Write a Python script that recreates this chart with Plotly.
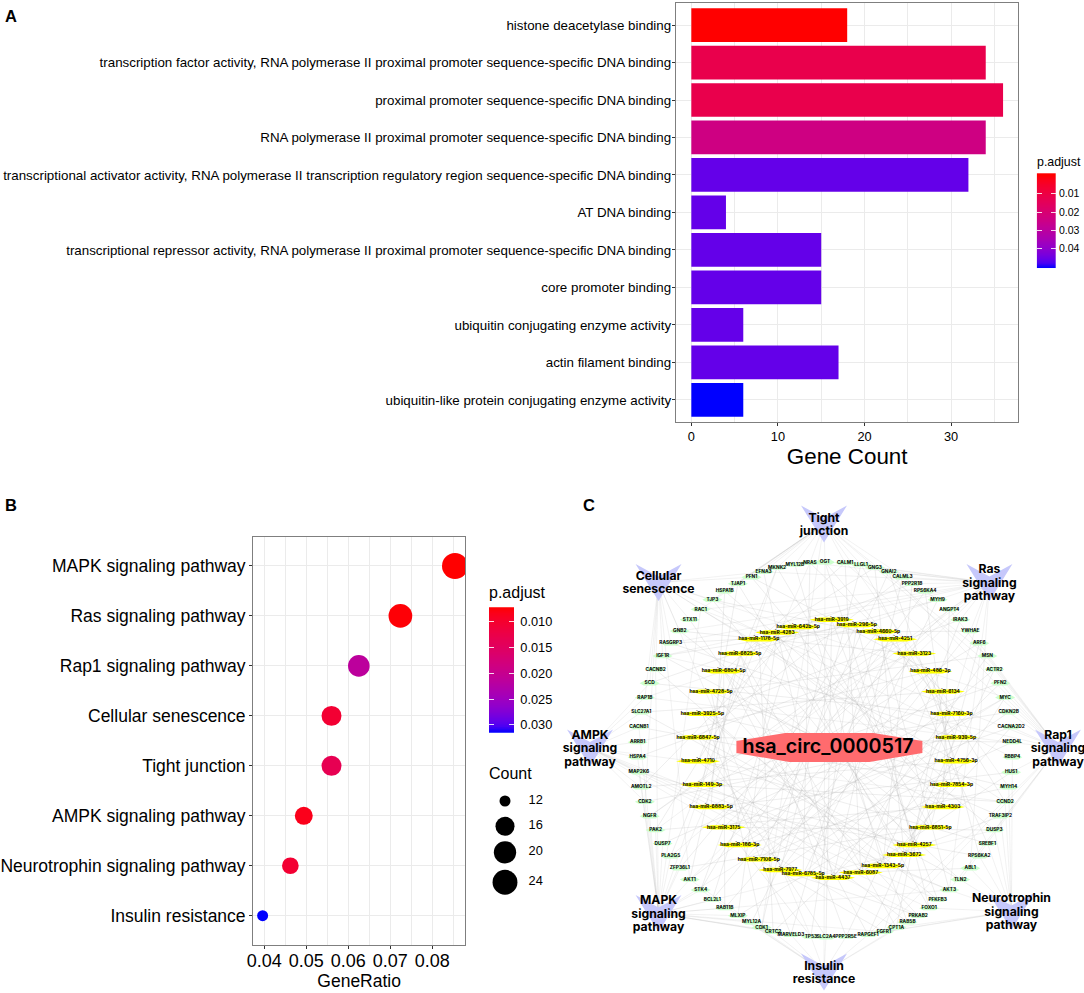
import math
import numpy as np
import plotly.graph_objects as go

# ---------------- DATA ----------------
GO_TERMS = [
    "histone deacetylase binding",
    "transcription factor activity, RNA polymerase II proximal promoter sequence-specific DNA binding",
    "proximal promoter sequence-specific DNA binding",
    "RNA polymerase II proximal promoter sequence-specific DNA binding",
    "transcriptional activator activity, RNA polymerase II transcription regulatory region sequence-specific DNA binding",
    "AT DNA binding",
    "transcriptional repressor activity, RNA polymerase II proximal promoter sequence-specific DNA binding",
    "core promoter binding",
    "ubiquitin conjugating enzyme activity",
    "actin filament binding",
    "ubiquitin-like protein conjugating enzyme activity",
]
GO_COUNT = [18, 34, 36, 34, 32, 4, 15, 15, 6, 17, 6]
GO_PADJ = [0.0001, 0.012, 0.012, 0.024, 0.046, 0.046, 0.046, 0.046, 0.046, 0.046, 0.0507]
GO_TICKS = [0.01, 0.02, 0.03, 0.04]

KEGG_TERMS = ["MAPK signaling pathway", "Ras signaling pathway", "Rap1 signaling pathway",
              "Cellular senescence", "Tight junction", "AMPK signaling pathway",
              "Neurotrophin signaling pathway", "Insulin resistance"]
KEGG_RATIO = [0.0854, 0.0724, 0.0625, 0.0560, 0.0560, 0.0494, 0.0462, 0.0396]
KEGG_COUNT = [26, 22, 19, 17, 17, 15, 14, 12]
KEGG_PADJ = [0.0072, 0.0075, 0.0215, 0.0105, 0.0135, 0.0085, 0.0105, 0.0315]
KEGG_TICKS = [0.010, 0.015, 0.020, 0.025, 0.030]
COUNT_LEGEND = [12, 16, 20, 24]

GENES = ["OGT", "CALM1", "LLGL1", "GNG3", "GNAI2", "CALML3", "PPP2R1B", "RPS6KA4", "MYH9", "ANGPT4",
         "IRAK3", "YWHAE", "ARF6", "MSN", "ACTR2", "PFN2", "MYC", "CDKN2B", "CACNA2D2", "NEDD4L",
         "RBBP4", "HUS1", "MYH14", "CCND2", "TRAF3IP2", "DUSP3", "SREBF1", "RPS6KA2", "ABL1", "TLN2",
         "AKT3", "PFKFB3", "FOXO1", "PRKAB2", "RAB5B", "CPT1A", "FGFR1", "RAPGEF1", "PPP2R5E", "SLC2A4",
         "TP53", "MARVELD3", "CRTC2", "CDK1", "MYL12A", "MLXIP", "RAB11B", "BCL2L1", "STK4", "AKT1",
         "ZFP36L1", "PLA2G5", "DUSP7", "PAK2", "NGFR", "CDK2", "AMOTL2", "MAP2K6", "HSPA4", "ARRB1",
         "CACNB1", "SLC27A1", "RAP1B", "SCD", "CACNB2", "IGF1R", "RASGRP3", "GNB2", "STX11", "RAC1",
         "TJP3", "HSPA1B", "TJAP1", "PFN1", "EFNA3", "MKNK2", "MYL12B", "NRAS"]

MIRNAS = ["hsa-miR-3919", "hsa-miR-296-5p", "hsa-miR-4660-5p", "hsa-miR-4251", "hsa-miR-3123", "hsa-miR-486-3p",
          "hsa-miR-6134", "hsa-miR-7160-3p", "hsa-miR-939-5p", "hsa-miR-4756-3p", "hsa-miR-7854-3p", "hsa-miR-4303",
          "hsa-miR-6851-5p", "hsa-miR-4257", "hsa-miR-3672", "hsa-miR-1343-5p", "hsa-miR-6087", "hsa-miR-4437",
          "hsa-miR-6785-5p", "hsa-miR-7977", "hsa-miR-7106-5p", "hsa-miR-186-3p", "hsa-miR-3175", "hsa-miR-6883-5p",
          "hsa-miR-149-3p", "hsa-miR-4710", "hsa-miR-6847-5p", "hsa-miR-3925-5p", "hsa-miR-4728-5p", "hsa-miR-6804-5p",
          "hsa-miR-6825-5p", "hsa-miR-1178-5p", "hsa-miR-4283", "hsa-miR-642b-5p"]

CIRCRNA = "hsa_circ_0000517"

PATHWAY_LINES = {
    "Tight junction": ["Tight", "junction"],
    "Ras signaling pathway": ["Ras", "signaling", "pathway"],
    "Rap1 signaling pathway": ["Rap1", "signaling", "pathway"],
    "Neurotrophin signaling pathway": ["Neurotrophin", "signaling", "pathway"],
    "Insulin resistance": ["Insulin", "resistance"],
    "MAPK signaling pathway": ["MAPK", "signaling", "pathway"],
    "AMPK signaling pathway": ["AMPK", "signaling", "pathway"],
    "Cellular senescence": ["Cellular", "senescence"],
}

PATHWAY_GENES = {
    "Tight junction": ["OGT", "NRAS", "MYL12B", "MKNK2", "EFNA3", "PFN1", "TJAP1", "HSPA1B", "TJP3", "RAC1",
                       "CALM1", "LLGL1", "MSN", "ACTR2", "MYH9", "MYH14", "CDK1"],
    "Ras signaling pathway": ["CALM1", "GNG3", "GNAI2", "CALML3", "PPP2R1B", "ANGPT4", "IRAK3", "YWHAE", "NRAS",
                              "RAC1", "RAP1B", "AKT1", "AKT3", "ABL1", "PAK2", "NGFR", "IGF1R", "RASGRP3",
                              "GNB2", "EFNA3", "FGFR1", "PLA2G5"],
    "Rap1 signaling pathway": ["ARF6", "ACTR2", "PFN2", "CDKN2B", "CACNA2D2", "MYC", "HUS1", "DUSP3", "TLN2",
                               "GNAI2", "CALM1", "ANGPT4", "RAC1", "RAP1B", "AKT3", "IGF1R", "FGFR1", "MSN", "RAPGEF1"],
    "Cellular senescence": ["RAC1", "STX11", "GNB2", "RASGRP3", "IGF1R", "CACNB2", "SCD", "RAP1B", "PFN1", "EFNA3",
                            "TJP3", "MYC", "CCND2", "TP53", "CDK2", "AKT1", "RBBP4"],
    "AMPK signaling pathway": ["CACNB1", "SLC27A1", "ARRB1", "HSPA4", "MAP2K6", "AMOTL2", "SCD", "RAP1B", "CDK2",
                               "CCND2", "AKT3", "FOXO1", "PFKFB3", "PRKAB2", "CPT1A"],
    "MAPK signaling pathway": ["ZFP36L1", "PLA2G5", "DUSP7", "PAK2", "NGFR", "CDK2", "MAP2K6", "HSPA4", "AKT1", "STK4",
                               "BCL2L1", "RAB11B", "MLXIP", "MYL12A", "CRTC2", "MARVELD3", "TP53", "MYC", "RAC1", "NRAS",
                               "FGFR1", "AKT3", "MKNK2", "CACNB1", "CACNB2", "DUSP3"],
    "Neurotrophin signaling pathway": ["RBBP4", "MYH14", "CCND2", "TRAF3IP2", "DUSP3", "SREBF1", "RPS6KA2", "ABL1",
                                       "TLN2", "AKT3", "FOXO1", "RAPGEF1", "FGFR1", "CPT1A"],
    "Insulin resistance": ["TP53", "MARVELD3", "CRTC2", "SLC2A4", "PPP2R5E", "RAPGEF1", "CPT1A", "RAB5B", "MLXIP",
                           "AKT1", "STK4", "OGT"],
}

MIRNA_TARGETS = {
    "hsa-miR-3919": ["SLC2A4", "CDK1", "PFKFB3", "SCD"],
    "hsa-miR-296-5p": ["TP53", "STK4", "FOXO1", "IGF1R"],
    "hsa-miR-4660-5p": ["MARVELD3", "ZFP36L1", "AKT3", "RASGRP3"],
    "hsa-miR-4251": ["MYL12A", "NGFR", "SREBF1", "TJP3"],
    "hsa-miR-3123": ["BCL2L1", "HSPA4", "CCND2", "GNB2"],
    "hsa-miR-486-3p": ["RAB11B", "ARRB1", "RPS6KA2", "PFN1"],
    "hsa-miR-6134": ["AKT1", "SLC27A1", "CPT1A", "NRAS"],
    "hsa-miR-7160-3p": ["DUSP7", "SCD", "PPP2R5E", "OGT"],
    "hsa-miR-939-5p": ["CDK2", "RASGRP3", "RAPGEF1", "LLGL1"],
    "hsa-miR-4756-3p": ["AMOTL2", "RAC1", "CRTC2", "GNAI2"],
    "hsa-miR-7854-3p": ["CACNB1", "HSPA1B", "MLXIP", "RPS6KA4"],
    "hsa-miR-4303": ["IGF1R", "PFN1", "PAK2", "ANGPT4"],
    "hsa-miR-6851-5p": ["GNB2", "MKNK2", "ZFP36L1", "ARF6"],
    "hsa-miR-4257": ["TJP3", "OGT", "MAP2K6", "ACTR2"],
    "hsa-miR-3672": ["TJAP1", "GNG3", "SLC27A1", "MYC"],
    "hsa-miR-1343-5p": ["MYL12B", "PPP2R1B", "CACNB2", "CACNA2D2"],
    "hsa-miR-6087": ["CALM1", "IRAK3", "STX11", "HUS1"],
    "hsa-miR-4437": ["CALML3", "MSN", "EFNA3", "TRAF3IP2"],
    "hsa-miR-6785-5p": ["MYH9", "PFN2", "NRAS", "ABL1"],
    "hsa-miR-7977": ["YWHAE", "CDKN2B", "LLGL1", "PRKAB2"],
    "hsa-miR-7106-5p": ["ACTR2", "NEDD4L", "GNAI2", "FGFR1"],
    "hsa-miR-186-3p": ["MYC", "MYH14", "RPS6KA4", "TP53"],
    "hsa-miR-3175": ["CACNA2D2", "DUSP3", "ANGPT4", "STK4"],
    "hsa-miR-6883-5p": ["HUS1", "RPS6KA2", "ARF6", "HSPA1B"],
    "hsa-miR-149-3p": ["CCND2", "AKT3", "PFN2", "TJAP1"],
    "hsa-miR-4710": ["SREBF1", "RAB5B", "CDKN2B", "MKNK2"],
    "hsa-miR-6847-5p": ["TLN2", "SLC2A4", "NEDD4L", "CALML3"],
    "hsa-miR-3925-5p": ["PFKFB3", "MARVELD3", "MYH14", "IRAK3"],
    "hsa-miR-4728-5p": ["PRKAB2", "CDK1", "TRAF3IP2", "MSN"],
    "hsa-miR-6804-5p": ["RAPGEF1", "RAB11B", "TLN2", "CALM1"],
    "hsa-miR-6825-5p": ["PPP2R5E", "AKT1", "CPT1A", "MYH9"],
    "hsa-miR-1178-5p": ["CRTC2", "PLA2G5", "DUSP3", "GNG3"],
    "hsa-miR-4283": ["MLXIP", "PAK2", "FOXO1", "YWHAE"],
    "hsa-miR-642b-5p": ["BCL2L1", "AMOTL2", "RAB5B", "PPP2R1B"],
}

# ---------------- HELPERS ----------------
W, H = 1084, 993
FONT = "Liberation Sans"
NET_FONT = "Inter"
GRID = "#ebebeb"
BORDER = "#7f7f7f"


def xdom(a, b):
    return [a / W, b / W]


def ydom(a, b):
    return [1 - b / H, 1 - a / H]


def srgb_to_lab(c):
    rgb = [v / 255 for v in c]
    rgb = [((v + 0.055) / 1.055) ** 2.4 if v > 0.04045 else v / 12.92 for v in rgb]
    X = (0.4124 * rgb[0] + 0.3576 * rgb[1] + 0.1805 * rgb[2]) / 0.95047
    Y = 0.2126 * rgb[0] + 0.7152 * rgb[1] + 0.0722 * rgb[2]
    Z = (0.0193 * rgb[0] + 0.1192 * rgb[1] + 0.9505 * rgb[2]) / 1.08883
    f = lambda t: t ** (1 / 3) if t > 0.008856 else 7.787 * t + 16 / 116
    return (116 * f(Y) - 16, 500 * (f(X) - f(Y)), 200 * (f(Y) - f(Z)))


def lab_to_srgb(L, a, b):
    fy = (L + 16) / 116
    fx, fz = fy + a / 500, fy - b / 200
    g = lambda t: t ** 3 if t ** 3 > 0.008856 else (t - 16 / 116) / 7.787
    X, Y, Z = 0.95047 * g(fx), g(fy), 1.08883 * g(fz)
    r = 3.2406 * X - 1.5372 * Y - 0.4986 * Z
    gn = -0.9689 * X + 1.8758 * Y + 0.0415 * Z
    bl = 0.0557 * X - 0.2040 * Y + 1.0570 * Z
    out = []
    for v in (r, gn, bl):
        v = max(0.0, min(1.0, v))
        v = 1.055 * v ** (1 / 2.4) - 0.055 if v > 0.0031308 else 12.92 * v
        out.append(int(round(v * 255)))
    return "rgb(%d,%d,%d)" % tuple(out)


LO, HI = srgb_to_lab((255, 0, 0)), srgb_to_lab((0, 0, 255))
RED_BLUE = [[i / 20, lab_to_srgb(*[LO[k] + (HI[k] - LO[k]) * i / 20 for k in range(3)])] for i in range(21)]

fig = go.Figure()

# ---------------- PANEL A ----------------
fig.add_trace(go.Bar(
    x=GO_COUNT, y=GO_TERMS, orientation="h", width=0.9, xaxis="x", yaxis="y",
    marker=dict(color=GO_PADJ, colorscale=RED_BLUE, cmin=min(GO_PADJ), cmax=max(GO_PADJ), line=dict(width=0)),
    showlegend=False, hoverinfo="skip"))

A_LOW, A_HIGH = -0.0011, 0.0507
zv = np.linspace(A_LOW, A_HIGH, 200)
fig.add_trace(go.Heatmap(
    x=[0], y=zv, z=[[v] for v in zv], xaxis="x2", yaxis="y2", colorscale=RED_BLUE,
    zmin=min(GO_PADJ), zmax=max(GO_PADJ), showscale=False, hoverinfo="skip"))

# ---------------- PANEL B ----------------


def count_size(c):
    return 11 + 15 * math.sqrt((c - 12) / 14)


fig.add_trace(go.Scatter(
    x=KEGG_RATIO, y=KEGG_TERMS, mode="markers", xaxis="x3", yaxis="y3",
    marker=dict(size=[count_size(c) for c in KEGG_COUNT], color=KEGG_PADJ, colorscale=RED_BLUE,
                cmin=0.0072, cmax=0.0315, opacity=1, line=dict(width=0)),
    showlegend=False, hoverinfo="skip"))

B_LOW, B_HIGH = 0.0072, 0.0315
zv = np.linspace(B_LOW, B_HIGH, 200)
fig.add_trace(go.Heatmap(
    x=[0], y=zv, z=[[v] for v in zv], xaxis="x4", yaxis="y4", colorscale=RED_BLUE,
    zmin=B_LOW, zmax=B_HIGH, showscale=False, hoverinfo="skip"))

# size legend, drawn on a pixel-scaled overlay axis
KEY_Y = [801, 826.3, 852.3, 882.3]
fig.add_trace(go.Scatter(
    x=[505] * 4, y=KEY_Y, mode="markers", xaxis="x5", yaxis="y5",
    marker=dict(size=[count_size(c) for c in COUNT_LEGEND], color="black", opacity=1, line=dict(width=0)),
    showlegend=False, hoverinfo="skip"))
fig.add_trace(go.Scatter(
    x=[535.7] * 4, y=KEY_Y, mode="text", text=[str(c) for c in COUNT_LEGEND], xaxis="x5", yaxis="y5",
    textposition="middle center", textfont=dict(family=FONT, size=12.8, color="black"),
    showlegend=False, hoverinfo="skip"))

# ---------------- PANEL C: circular layouts ----------------
GX, GY, GR = 825, 749.7, 187.5
MX, MY, MR = 827, 749.3, 129.5
n_g, n_m = len(GENES), len(MIRNAS)
# hand-adjusted spread of the crowded labels at the top and bottom of the rings
GENE_DX = {"CALM1": 5, "LLGL1": 6, "GNG3": 5, "GNAI2": 4.5, "CALML3": 4, "MKNK2": -3, "EFNA3": -2,
           "FOXO1": 4, "PRKAB2": 6, "RAB5B": 9, "CPT1A": 12, "FGFR1": 14, "RAPGEF1": 13, "PPP2R5E": 6,
           "SLC2A4": 1, "TP53": 1, "MARVELD3": -4, "CRTC2": -7, "CDK1": -4}
MIR_SHIFT = {"hsa-miR-3919": (4.7, 0), "hsa-miR-296-5p": (6, 3), "hsa-miR-4660-5p": (4.5, 3),
             "hsa-miR-642b-5p": (-5, 5), "hsa-miR-4283": (-3, 4),
             "hsa-miR-3672": (9, -4.5), "hsa-miR-1343-5p": (9, -4), "hsa-miR-6087": (10, -4),
             "hsa-miR-4437": (6, -1), "hsa-miR-6785-5p": (0, -2.5)}
gene_pos = {g: (GX + GR * math.sin(2 * math.pi * i / n_g) + GENE_DX.get(g, 0), GY - GR * math.cos(2 * math.pi * i / n_g))
            for i, g in enumerate(GENES)}
mir_pos = {m: (MX + MR * math.sin(2 * math.pi * i / n_m) + MIR_SHIFT.get(m, (0, 0))[0],
               MY - MR * math.cos(2 * math.pi * i / n_m) + MIR_SHIFT.get(m, (0, 0))[1])
           for i, m in enumerate(MIRNAS)}

# pathway octagon, ring squeezed a little vertically; Neurotrophin pushed right for its label
PX, PY, PR, P_VMAX = 824, 748, 234, 224
PATH_ANGLE_STEP = 45
path_pos = {}
for i, p in enumerate(PATHWAY_LINES):
    th = math.radians(i * PATH_ANGLE_STEP)
    dx, dy = PR * math.sin(th), -PR * math.cos(th)
    dy = max(-P_VMAX, min(P_VMAX, dy))
    path_pos[p] = [PX + dx, PY + dy]
path_pos["Neurotrophin signaling pathway"][0] += 22
path_pos["Neurotrophin signaling pathway"][1] -= 2


def segments(pairs):
    xs, ys = [], []
    for a, b in pairs:
        xs += [a[0], b[0], None]
        ys += [a[1], b[1], None]
    return xs, ys


path_edges = [(path_pos[p], gene_pos[g]) for p, gs in PATHWAY_GENES.items() for g in gs]
mir_edges = [(mir_pos[m], gene_pos[g]) for m, gs in MIRNA_TARGETS.items() for g in gs]
ex, ey = segments(path_edges)
fig.add_trace(go.Scatter(x=ex, y=ey, mode="lines", xaxis="x6", yaxis="y6",
                         line=dict(color="rgba(170,170,170,0.3)", width=0.5), showlegend=False, hoverinfo="skip"))
ex, ey = segments(mir_edges)
fig.add_trace(go.Scatter(x=ex, y=ey, mode="lines", xaxis="x6", yaxis="y6",
                         line=dict(color="rgba(165,165,165,0.38)", width=0.5), showlegend=False, hoverinfo="skip"))


def outline(centres, rel):
    xs, ys = [], []
    for cx, cy in centres:
        xs += [cx + u for u, v in rel] + [cx + rel[0][0], None]
        ys += [cy + v for u, v in rel] + [cy + rel[0][1], None]
    return xs, ys


HEX_G = [(-10, 0), (-6, -2.2), (6, -2.2), (10, 0), (6, 2.2), (-6, 2.2)]
HEX_M = [(-22, 0), (-12, -2.2), (12, -2.2), (22, 0), (12, 2.2), (-12, 2.2)]
VEE = [(-23, -18.5), (0, -6), (23, -18.5), (0, 18.5)]
OCT = [(-93, -8), (-44, -16), (44, -16), (93, -8), (93, 4), (40, 13), (-40, 13), (-93, 4)]

for centres, rel, col in [(list(path_pos.values()), VEE, "#c6c8fb"),
                          (list(gene_pos.values()), HEX_G, "#ccffcc"),
                          (list(mir_pos.values()), HEX_M, "#ffff00"),
                          ([(829.4, 749)], OCT, "#ff6b6e")]:
    xs, ys = outline(centres, rel)
    fig.add_trace(go.Scatter(x=xs, y=ys, mode="lines", fill="toself", fillcolor=col, line=dict(width=0),
                             xaxis="x6", yaxis="y6", showlegend=False, hoverinfo="skip"))


def label_trace(xs, ys, labels, size, weight):
    return go.Scatter(x=xs, y=ys, text=labels, mode="text", xaxis="x6", yaxis="y6",
                      textposition="middle center",
                      textfont=dict(family=NET_FONT, size=size, color="black", weight=weight),
                      showlegend=False, hoverinfo="skip")


fig.add_trace(label_trace([gene_pos[g][0] for g in GENES], [gene_pos[g][1] for g in GENES], GENES, 4.8, 700))
fig.add_trace(label_trace([mir_pos[m][0] for m in MIRNAS], [mir_pos[m][1] for m in MIRNAS], MIRNAS, 4.9, 700))
fig.add_trace(label_trace([828], [748], [CIRCRNA], 19.7, 600))

LINE_STEP = 13.4
LABEL_DROP = 1.2
lx, ly, lt = [], [], []
for p, lines in PATHWAY_LINES.items():
    cx, cy = path_pos[p]
    for i, t in enumerate(lines):
        lx.append(cx)
        ly.append(cy + LABEL_DROP + (i - (len(lines) - 1) / 2) * LINE_STEP)
        lt.append(t)
fig.add_trace(label_trace(lx, ly, lt, 12.2, 700))


# ---------------- LAYOUT ----------------
def ann(text, x, y, size, bold=False, anchor="left", family=FONT):
    t = "<b>%s</b>" % text if bold else text
    return dict(text=t, x=x / W, y=1 - y / H, xref="paper", yref="paper", xanchor=anchor, yanchor="middle",
                showarrow=False, font=dict(family=family, size=size, color="black"))


annotations = [
    ann("A", 3, 16, 16.5, True),
    ann("B", 3, 505, 16.5, True),
    ann("C", 581, 505, 16.5, True),
    ann("p.adjust", 1034.7, 161.7, 12.4),
    ann("p.adjust", 487.3, 592.7, 16),
    ann("Count", 487.3, 773.3, 16),
]

common_x = dict(showline=True, mirror=True, linecolor=BORDER, linewidth=1.4, zeroline=False,
                showgrid=True, gridcolor=GRID, gridwidth=1.4, ticks="outside", ticklen=3, tickwidth=1,
                tickcolor="#333333")
common_y = dict(showline=True, mirror=True, linecolor=BORDER, linewidth=1.4, zeroline=False,
                showgrid=True, gridcolor=GRID, gridwidth=1.4, ticks="outside", ticklen=3, tickwidth=1,
                tickcolor="#333333", type="category")
hidden = dict(visible=False, showgrid=False, zeroline=False, fixedrange=True)


def bar_axis(dom_y, rng, ticks, size, standoff):
    return dict(domain=dom_y, range=rng, tickvals=ticks, tickformat=".3f" if size > 12 else ".2f",
                side="right", anchor="x2" if size < 12 else "x4",
                showgrid=False, zeroline=False, showline=False, mirror="ticks",
                ticks="inside", ticklen=5, tickwidth=1, tickcolor="rgba(255,255,255,0.85)",
                ticklabelstandoff=standoff,
                tickfont=dict(family=FONT, size=size, color="black"))


fig.update_layout(
    width=W, height=H, autosize=False, margin=dict(l=0, r=0, t=0, b=0, autoexpand=False),
    paper_bgcolor="white", plot_bgcolor="rgba(0,0,0,0)", showlegend=False,
    annotations=annotations,
    # A
    xaxis=dict(domain=xdom(676, 1018.3), range=[-1.77, 37.76], tickvals=[0, 10, 20, 30], anchor="y",
               minor=dict(tickvals=[5, 15, 25, 35], showgrid=True, gridcolor=GRID, gridwidth=0.7, ticks=""),
               tickfont=dict(family=FONT, size=12.8, color="black"),
               title=dict(text="Gene Count", font=dict(family=FONT, size=22.4, color="black"), standoff=2),
               **common_x),
    yaxis=dict(domain=ydom(2.7, 421.7), range=[10.58, -0.595], categoryorder="array", categoryarray=GO_TERMS,
               anchor="x", ticklabelstandoff=-2, tickfont=dict(family=FONT, size=13.35, color="black"), **common_y),
    xaxis2=dict(domain=xdom(1036.7, 1056), range=[-0.5, 0.5], anchor="y2", **hidden),
    yaxis2=bar_axis(ydom(173.3, 268.3), [A_HIGH, A_LOW], GO_TICKS, 10.5, 2),
    # B
    xaxis3=dict(domain=xdom(253.3, 465), range=[0.03738, 0.08778], tickvals=[0.04, 0.05, 0.06, 0.07, 0.08], anchor="y3",
                tickformat=".2f", ticklabelstandoff=-4,
                minor=dict(tickvals=[0.045, 0.055, 0.065, 0.075, 0.085], showgrid=True, gridcolor=GRID, gridwidth=0.7, ticks=""),
                tickfont=dict(family=FONT, size=18, color="black"),
                title=dict(text="GeneRatio", font=dict(family=FONT, size=17.5, color="black"), standoff=0),
                **common_x),
    yaxis3=dict(domain=ydom(536.7, 945), range=[7.586, -0.586], categoryorder="array", categoryarray=KEGG_TERMS,
                anchor="x3", tickfont=dict(family=FONT, size=17.5, color="black"), **common_y),
    xaxis4=dict(domain=xdom(489, 514.3), range=[-0.5, 0.5], anchor="y4", **hidden),
    yaxis4=bar_axis(ydom(607.3, 732.7), [B_HIGH, B_LOW], KEGG_TICKS, 12.8, 5),
    # size legend overlay: pixel-scaled axes
    xaxis5=dict(domain=xdom(480, 560), range=[480, 560], anchor="y5", **hidden),
    yaxis5=dict(domain=ydom(785, 900), range=[900, 785], anchor="x5", **hidden),
    # network overlay: pixel-scaled axes
    xaxis6=dict(domain=xdom(560, 1084), range=[560, 1084], anchor="y6", **hidden),
    yaxis6=dict(domain=ydom(490, 993), range=[993, 490], anchor="x6", **hidden),
)

fig.write_html("out.html", post_script="document.body.style.margin='0';", config=dict(displayModeBar=False))
